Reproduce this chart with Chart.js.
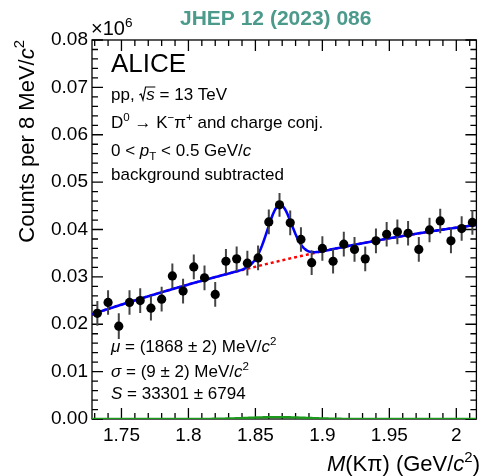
<!DOCTYPE html>
<html>
<head>
<meta charset="utf-8">
<script src="https://cdn.jsdelivr.net/npm/chart.js@4.4.1/dist/chart.umd.min.js"></script>
<style>
  html, body { margin: 0; padding: 0; background: #fff; }
  #wrap { width: 481px; height: 476px; }
</style>
</head>
<body>
<div id="wrap"><canvas id="massPlot" width="481" height="476"></canvas></div>
<script>
// D0 -> K pi invariant-mass spectrum, 0 < pT < 0.5 GeV/c, background subtracted
// bin centres in GeV/c^2, counts in units of 10^6 per 8 MeV/c^2
const massBins = [
  1.732, 1.740, 1.748, 1.756, 1.764, 1.772, 1.780, 1.788, 1.796, 1.804, 1.812, 1.820,
  1.828, 1.836, 1.844, 1.852, 1.860, 1.868, 1.876, 1.884, 1.892, 1.900, 1.908, 1.916,
  1.924, 1.932, 1.940, 1.948, 1.956, 1.964, 1.972, 1.980, 1.988, 1.996, 2.004, 2.012
];
const counts = [
  0.0223, 0.0246, 0.0196, 0.0246, 0.0250, 0.0234, 0.0253, 0.0302, 0.0270, 0.0321, 0.0298, 0.0263,
  0.0333, 0.0338, 0.0329, 0.0340, 0.0416, 0.0452, 0.0414, 0.0379, 0.0330, 0.0360, 0.0333, 0.0369,
  0.0358, 0.0338, 0.0376, 0.0390, 0.0395, 0.0392, 0.0358, 0.0399, 0.0418, 0.0376, 0.0402, 0.0415
];
const countErr = [
  0.0026, 0.0026, 0.0027, 0.0026, 0.0026, 0.0026, 0.0026, 0.0026, 0.0026, 0.0026, 0.0026, 0.0026,
  0.0026, 0.0026, 0.0026, 0.0026, 0.0026, 0.0025, 0.0026, 0.0026, 0.0026, 0.0026, 0.0026, 0.0026,
  0.0026, 0.0026, 0.0026, 0.0026, 0.0026, 0.0026, 0.0026, 0.0026, 0.0026, 0.0026, 0.0026, 0.0026
];

const xTicks = [1.75, 1.8, 1.85, 1.9, 1.95, 2.0];
const yTicks = [0, 0.01, 0.02, 0.03, 0.04, 0.05, 0.06, 0.07, 0.08];

// fit result: gaussian signal + pol2 background (around 1.87 GeV/c^2) + reflections
const fitMu = 1.868;        // GeV/c^2
const fitSigma = 0.009;     // GeV/c^2
const fitYield = 33301;     // counts
const binWidth = 0.008;     // GeV/c^2
const bkgPar = [0.0335, 0.066, -0.10];
const reflPar = [0.0004, 1.866, 0.022];

const FONT = '"Liberation Sans", Arial, Helvetica, sans-serif';
const xMin = 1.728, xMax = 2.015;

function gaus(m, amp, mean, sig) {
  return amp * Math.exp(-0.5 * Math.pow((m - mean) / sig, 2));
}
function bkg(m) {
  const t = m - 1.87;
  return bkgPar[0] + bkgPar[1] * t + bkgPar[2] * t * t;
}
const sigAmp = fitYield * binWidth / (fitSigma * Math.sqrt(2 * Math.PI)) / 1e6;

const totalCurve = [], bkgCurve = [], reflCurve = [];
for (let i = 1728; i <= 2015; i++) {
  const m = i / 1000;
  totalCurve.push({ x: m, y: bkg(m) + gaus(m, sigAmp, fitMu, fitSigma) });
  bkgCurve.push({ x: m, y: bkg(m) });
  reflCurve.push({ x: m, y: gaus(m, reflPar[0], reflPar[1], reflPar[2]) });
}

const points = massBins.map((m, i) => ({ x: m, y: counts[i] }));

// text with super/subscripts: parts = [[text, flags]], flags: i = italic, ^ = sup, _ = sub
function richWidth(ctx, parts, size) {
  let w = 0;
  for (const [t, f = ''] of parts) {
    const s = (f.includes('^') || f.includes('_')) ? size * 0.68 : size;
    ctx.font = (f.includes('i') ? 'italic ' : '') + s + 'px ' + FONT;
    w += ctx.measureText(t).width;
  }
  return w;
}
function rich(ctx, x, y, parts, size) {
  let cx = x;
  for (const [t, f = ''] of parts) {
    let s = size, dy = 0;
    if (f.includes('^')) { s = size * 0.68; dy = -size * 0.42; }
    if (f.includes('_')) { s = size * 0.68; dy = size * 0.22; }
    ctx.font = (f.includes('i') ? 'italic ' : '') + s + 'px ' + FONT;
    ctx.fillText(t, cx, y + dy);
    cx += ctx.measureText(t).width;
  }
  return cx;
}

const decor = {
  id: 'decor',
  beforeDatasetsDraw(chart) {
    const { ctx, chartArea: a, scales: { x, y } } = chart;
    ctx.save();
    ctx.strokeStyle = '#000';
    ctx.lineWidth = 1.3;
    ctx.strokeRect(a.left, a.top, a.right - a.left, a.bottom - a.top);
    ctx.beginPath();
    for (let i = 173; i <= 201; i++) {
      const px = x.getPixelForValue(i / 100);
      const len = i % 5 === 0 ? 11 : 6;
      ctx.moveTo(px, a.bottom); ctx.lineTo(px, a.bottom - len);
      ctx.moveTo(px, a.top); ctx.lineTo(px, a.top + len);
    }
    for (let i = 0; i <= 40; i++) {
      const py = y.getPixelForValue(i * 0.002);
      const len = i % 5 === 0 ? 11 : 6;
      ctx.moveTo(a.left, py); ctx.lineTo(a.left + len, py);
      ctx.moveTo(a.right, py); ctx.lineTo(a.right - len, py);
    }
    ctx.stroke();
    ctx.restore();
  },
  beforeDatasetDraw(chart, args) {
    if (args.index !== 0) return;
    const { ctx, scales: { x, y } } = chart;
    ctx.save();
    ctx.strokeStyle = '#444';
    ctx.lineWidth = 2;
    ctx.beginPath();
    massBins.forEach((m, i) => {
      const px = x.getPixelForValue(m);
      ctx.moveTo(px, y.getPixelForValue(counts[i] - countErr[i]));
      ctx.lineTo(px, y.getPixelForValue(counts[i] + countErr[i]));
    });
    ctx.stroke();
    ctx.restore();
  },
  afterDraw(chart) {
    const { ctx, chartArea: a } = chart;
    ctx.save();
    ctx.textBaseline = 'alphabetic';
    ctx.textAlign = 'left';

    // journal reference
    ctx.fillStyle = '#4c9a8c';
    ctx.font = 'bold 21px ' + FONT;
    ctx.fillText('JHEP 12 (2023) 086', 180, 25);
    ctx.fillStyle = '#000';

    // axis multiplier
    rich(ctx, a.left - 1, 35, [['\u00d710'], ['6', '^']], 20);

    ctx.font = '26px ' + FONT;
    ctx.fillText('ALICE', 111, 72);

    const fs = 17;
    // pp, sqrt(s) = 13 TeV, with a drawn radical
    let cx = rich(ctx, 111, 100, [['pp, ']], fs);
    ctx.save();
    ctx.strokeStyle = '#000';
    ctx.lineWidth = 1.2;
    ctx.font = 'italic ' + fs + 'px ' + FONT;
    const sw = ctx.measureText('s').width;
    ctx.beginPath();
    ctx.moveTo(cx, 100 - 5);
    ctx.lineTo(cx + 1.6, 100 - 6);
    ctx.lineTo(cx + 3.6, 100);
    ctx.lineTo(cx + 6.2, 100 - 13);
    ctx.lineTo(cx + 7 + sw + 0.5, 100 - 13);
    ctx.stroke();
    ctx.restore();
    rich(ctx, cx + 7, 100, [['s', 'i'], [' = 13 TeV']], fs);

    rich(ctx, 111, 128, [['D'], ['0', '^'], [' \u2192 K'], ['\u2212', '^'], ['\u03c0'], ['+', '^'],
      [' and charge conj.']], fs);
    rich(ctx, 111, 156, [['0 < '], ['p', 'i'], ['T', '_'], [' < 0.5 GeV/'], ['c', 'i']], fs);
    rich(ctx, 111, 180, [['background subtracted']], fs);

    rich(ctx, 111, 352, [['\u03bc', 'i'], [' = (1868 \u00b1 2) MeV/'], ['c', 'i'], ['2', '^']], fs);
    rich(ctx, 111, 377, [['\u03c3', 'i'], [' = (9 \u00b1 2) MeV/'], ['c', 'i'], ['2', '^']], fs);
    rich(ctx, 111, 399, [['S', 'i'], [' = 33301 \u00b1 6794']], fs);

    // axis titles
    const xt = [['M', 'i'], ['(K\u03c0) (GeV/'], ['c', 'i'], ['2', '^'], [')']];
    rich(ctx, 480 - richWidth(ctx, xt, 22), 471, xt, 22);

    const yt = [['Counts per 8 MeV/'], ['c', 'i'], ['2', '^']];
    ctx.translate(33.5, 40);
    ctx.rotate(-Math.PI / 2);
    rich(ctx, -richWidth(ctx, yt, 22), 0, yt, 22);
    ctx.restore();
  }
};

const tickFont = { family: FONT, size: 19 };

new Chart(document.getElementById('massPlot').getContext('2d'), {
  type: 'scatter',
  data: {
    datasets: [
      { data: points, pointRadius: 4.6, pointBackgroundColor: '#000', pointBorderWidth: 0, showLine: false },
      { type: 'line', data: totalCurve, borderColor: '#0000ff', borderWidth: 2.6, pointRadius: 0, tension: 0 },
      { type: 'line', data: bkgCurve, borderColor: '#ff0000', borderWidth: 2.4, borderDash: [3, 3],
        pointRadius: 0, tension: 0 },
      { type: 'line', data: reflCurve, borderColor: '#1c9a1c', borderWidth: 2.4, pointRadius: 0, tension: 0 }
    ]
  },
  options: {
    responsive: false,
    animation: false,
    events: [],
    layout: { padding: { left: 0, top: 40, right: 0, bottom: 0 } },
    plugins: { legend: { display: false }, tooltip: { enabled: false } },
    scales: {
      x: {
        type: 'linear', min: xMin, max: xMax,
        grid: { display: false, drawTicks: false }, border: { display: false },
        afterBuildTicks: s => { s.ticks = xTicks.map(v => ({ value: v })); },
        afterFit: s => { s.height = 57; },
        ticks: {
          font: tickFont, color: '#000', padding: 5, maxRotation: 0, autoSkip: false,
          callback: v => String(+v.toFixed(2))
        }
      },
      y: {
        type: 'linear', min: 0, max: 0.08,
        grid: { display: false, drawTicks: false }, border: { display: false },
        afterBuildTicks: s => { s.ticks = yTicks.map(v => ({ value: v })); },
        afterFit: s => { s.width = 92; },
        ticks: { font: tickFont, color: '#000', padding: 4, callback: v => v.toFixed(2) }
      }
    }
  },
  plugins: [decor]
});
</script>
</body>
</html>
